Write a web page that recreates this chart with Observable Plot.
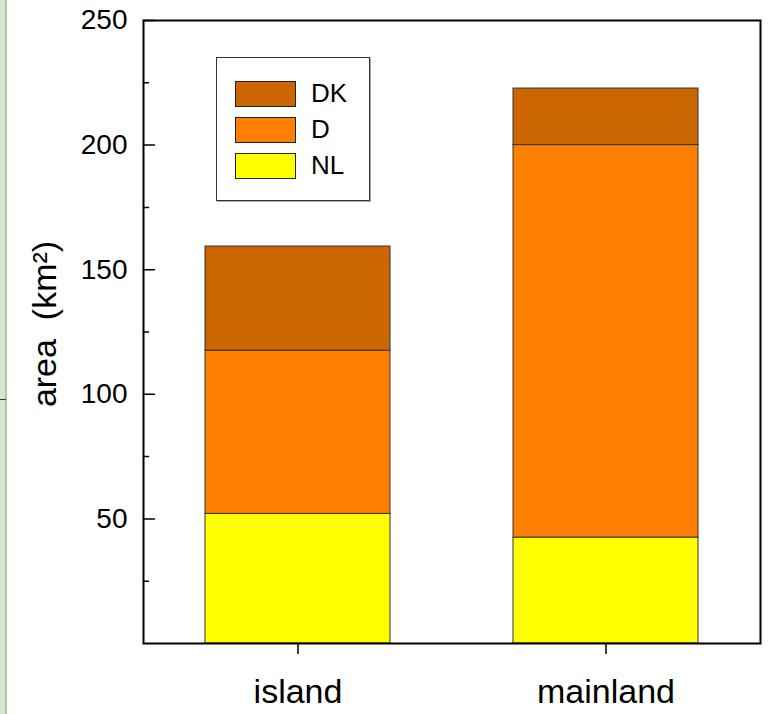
<!DOCTYPE html>
<html>
<head>
<meta charset="utf-8">
<script src="https://cdn.jsdelivr.net/npm/d3@7"></script>
<script src="https://cdn.jsdelivr.net/npm/@observablehq/plot@0.6"></script>
<style>
  body { margin: 0; background: #fff; font-family: "Liberation Sans", Arial, sans-serif; }
  #wrap { position: relative; width: 768px; height: 714px; overflow: hidden; background: #fff; }
  #strip { position: absolute; left: 0; top: 0; width: 5px; height: 714px; background: #d7e6cf; border-right: 2px solid #b3c8a8; }
  #stripTick { position: absolute; left: 0; top: 399px; width: 6px; height: 1px; background: #333; }
  #legend { position: absolute; left: 216px; top: 57px; width: 152px; height: 142px; border: 1px solid #333; background: #fff; box-shadow: 1px 1px 0 #aaa; }
  .item { position: absolute; left: 18px; height: 27px; display: flex; align-items: center; }
  .sw { width: 61px; height: 26px; border: 1px solid #222; box-sizing: border-box; }
  .lab { margin-left: 15px; font-size: 26px; color: #000; line-height: 27px; }
  #chart { position: absolute; left: 0; top: 0; }
</style>
</head>
<body>
<div id="wrap">
  <div id="chart"></div>
  <div id="strip"></div>
  <div id="stripTick"></div>
  <div id="legend"></div>
</div>
<script>
// ---- data ----
const regions = ["island", "mainland"];
const countries = ["NL", "D", "DK"];           // stacking order, bottom to top
const colors = ["#ffff00", "#ff8000", "#cc6600"];
const islandValues = [52, 65.5, 41.8];
const mainlandValues = [42.5, 157.5, 22.7];
const yMajorTicks = [50, 100, 150, 200, 250];
const yMinorTicks = [25, 75, 125, 175, 225];
const yLabel = "area\u00a0\u00a0(km\u00b2)";

// ---- table ----
const rows = [];
countries.forEach((c, i) => {
  rows.push({ region: regions[0], country: c, value: islandValues[i] });
  rows.push({ region: regions[1], country: c, value: mainlandValues[i] });
});

// plain line shape for inward ticks
const lineShape = { draw(context, l) { context.moveTo(0, 0); context.lineTo(0, -l); } };

const chart = Plot.plot({
  width: 768,
  height: 714,
  marginLeft: 143,
  marginRight: 8,
  marginTop: 20,
  marginBottom: 71,
  style: { fontFamily: "Liberation Sans, Arial, sans-serif", color: "#000", background: "transparent", overflow: "visible" },
  x: { domain: regions, paddingInner: 0.4, paddingOuter: 0.2, label: null },
  y: { domain: [0, 250], label: null },
  color: { domain: countries, range: colors },
  marks: [
    Plot.barY(rows, Plot.stackY({ x: "region", y: "value", fill: "country", stroke: "#333", strokeWidth: 1, order: countries })),
    Plot.frame({ stroke: "#000", strokeWidth: 2 }),
    Plot.axisY({ ticks: yMajorTicks, tickSize: 0, tickPadding: 16, fontSize: 28, label: null }),
    Plot.vector(yMajorTicks, { y: d => d, frameAnchor: "left", rotate: 90, length: 11, anchor: "start", shape: lineShape, stroke: "#000", strokeWidth: 1.5 }),
    Plot.vector(yMinorTicks, { y: d => d, frameAnchor: "left", rotate: 90, length: 5, anchor: "start", shape: lineShape, stroke: "#000", strokeWidth: 1.5 }),
    Plot.axisX({ tickSize: 11, tickPadding: 24, fontSize: 34, label: null, strokeWidth: 1.5 }),
    Plot.text([yLabel], { frameAnchor: "left", textAnchor: "middle", dx: -98, dy: -8, rotate: -90, fontSize: 34, fill: "#000" })
  ]
});
document.getElementById("chart").appendChild(chart);

// ---- legend (top to bottom: DK, D, NL) ----
const legend = document.getElementById("legend");
const order = countries.slice().reverse();
order.forEach((c, i) => {
  const item = document.createElement("div");
  item.className = "item";
  item.style.top = (22 + i * 36) + "px";
  const sw = document.createElement("div");
  sw.className = "sw";
  sw.style.background = colors[countries.indexOf(c)];
  const lab = document.createElement("span");
  lab.className = "lab";
  lab.textContent = c;
  item.appendChild(sw);
  item.appendChild(lab);
  legend.appendChild(item);
});
</script>
</body>
</html>
